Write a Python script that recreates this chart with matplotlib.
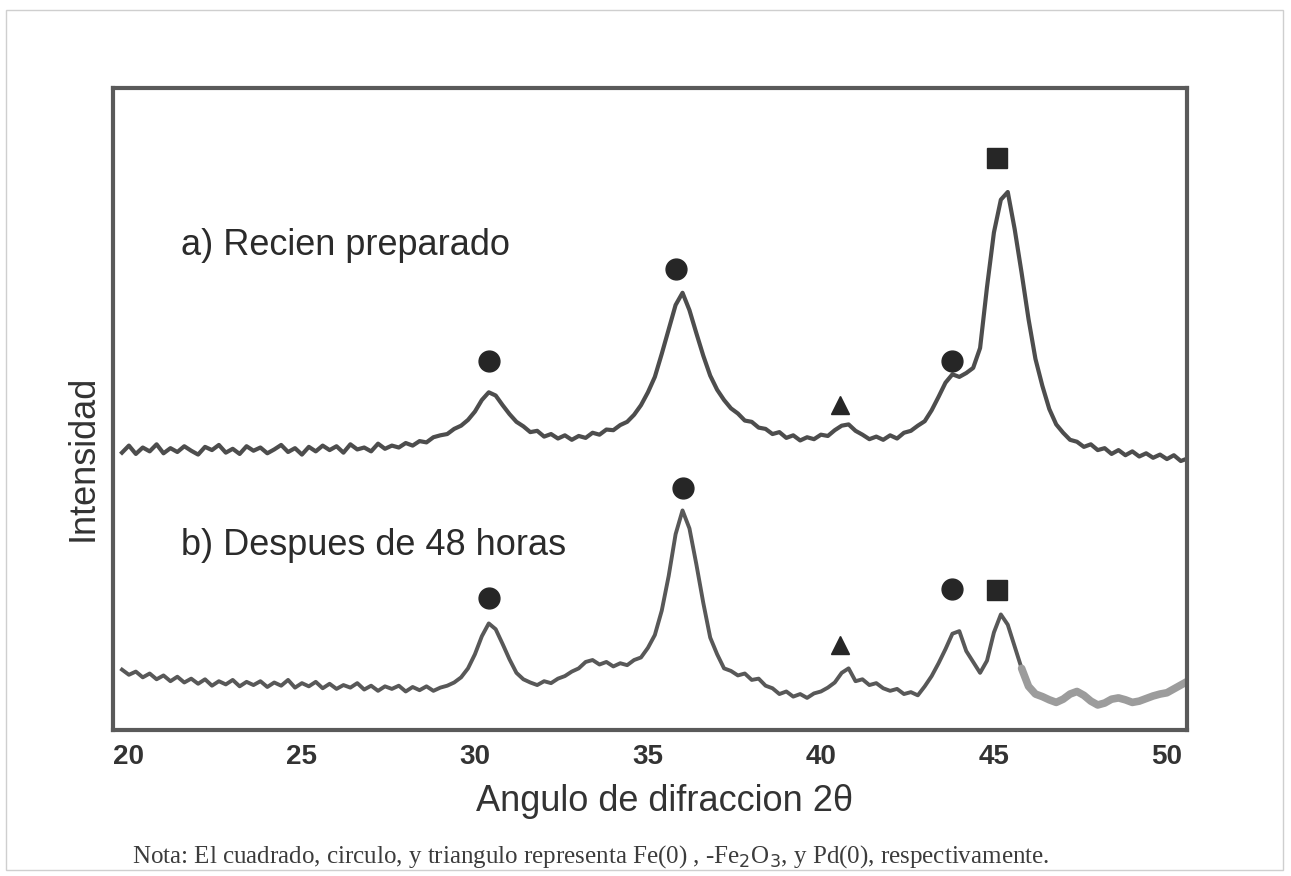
"""
XRD patterns of the Fe/Pd nanoparticles: fresh sample vs. after 48 h.
Writes out.png
"""
import matplotlib
matplotlib.use("Agg")
import matplotlib.pyplot as plt
import numpy as np
from matplotlib.patches import Rectangle

# sampling grid of the scan, 2-theta in degrees (19.8 .. 50.6, 0.2 step)
two_theta = np.round(np.arange(19.8, 50.61, 0.2), 1)

# a) recien preparado  (arbitrary intensity units, offset up)
fresh = [
    43.2, 44.3, 43.0, 44.0, 43.4, 44.5, 43.1, 43.9, 43.3, 44.2,
    43.5, 42.9, 44.1, 43.6, 44.4, 43.2, 43.8, 43.0, 44.2, 43.5,
    44.0, 43.1, 43.7, 44.4, 43.3, 43.9, 42.9, 44.1, 43.4, 44.3,
    43.6, 44.2, 43.2, 44.5, 43.7, 44.0, 43.4, 44.6, 43.8, 44.3,
    44.0, 44.7, 44.3, 45.0, 44.8, 45.6, 45.9, 46.1, 46.9, 47.4,
    48.3, 49.6, 51.4, 52.6, 52.1, 50.6, 49.2, 48.0, 47.3, 46.4,
    46.6, 45.7, 46.1, 45.4, 45.9, 45.2, 45.8, 45.5, 46.3, 46.0,
    46.8, 46.7, 47.5, 48.0, 49.1, 50.6, 52.6, 55.0, 58.6, 62.4,
    66.2, 68.1, 65.4, 61.8, 58.3, 55.2, 53.0, 51.4, 50.1, 49.3,
    48.2, 48.0, 47.1, 46.9, 46.1, 46.4, 45.5, 45.9, 45.1, 45.6,
    45.3, 46.0, 45.8, 46.7, 47.4, 47.6, 46.6, 46.0, 45.3, 45.7,
    45.2, 45.9, 45.4, 46.3, 46.6, 47.4, 48.1, 49.8, 51.9, 54.1,
    55.4, 55.0, 55.6, 56.4, 59.5, 69.0, 77.5, 82.6, 83.8, 78.0,
    71.2, 64.0, 57.8, 53.6, 50.0, 47.6, 46.3, 45.2, 44.9, 44.1,
    44.5, 43.6, 43.9, 43.0, 43.6, 42.8, 43.4, 42.6, 43.1, 42.4,
    42.9, 42.2, 42.8, 41.9, 42.3,
]

# b) despues de 48 horas
aged = [
    9.4, 8.6, 9.1, 8.2, 8.8, 7.9, 8.5, 7.6, 8.3, 7.4,
    8.0, 7.2, 7.9, 6.9, 7.6, 7.1, 7.8, 6.8, 7.5, 7.0,
    7.6, 6.7, 7.4, 6.9, 7.8, 6.6, 7.3, 6.8, 7.5, 6.5,
    7.2, 6.4, 7.0, 6.6, 7.3, 6.3, 6.9, 6.1, 6.8, 6.4,
    6.9, 6.0, 6.7, 6.2, 6.8, 6.1, 6.6, 6.9, 7.4, 8.2,
    9.6, 11.8, 14.6, 16.6, 15.7, 13.4, 11.0, 8.9, 7.9, 7.4,
    7.0, 7.6, 7.3, 8.0, 8.4, 9.1, 9.6, 10.6, 10.9, 10.2,
    10.6, 9.9, 10.4, 10.1, 10.9, 11.3, 12.8, 14.8, 18.6, 24.0,
    30.5, 34.2, 31.4, 25.8, 19.8, 14.4, 11.8, 9.6, 9.2, 8.5,
    8.8, 7.8, 8.0, 6.9, 6.5, 5.6, 6.0, 5.2, 5.6, 5.0,
    5.7, 6.0, 6.6, 7.4, 8.9, 9.6, 7.6, 7.9, 7.0, 7.3,
    6.5, 6.1, 6.4, 5.6, 5.9, 5.4, 6.8, 8.4, 10.4, 12.6,
    15.0, 15.4, 12.3, 10.6, 8.9, 10.8, 15.2, 18.0, 16.4, 13.0,
    9.6, 6.8, 5.6, 5.2, 4.7, 4.3, 4.8, 5.6, 6.0, 5.4,
    4.5, 3.9, 4.2, 4.8, 5.0, 4.7, 4.3, 4.5, 4.9, 5.3,
    5.6, 5.8, 6.4, 7.0, 7.6,
]
aged_faint_from = 45.8   # past this angle the aged trace is a light grey band

# phase markers: s = Fe(0), o = Fe2O3, ^ = Pd(0)
fresh_mk_x = [30.4, 35.8, 40.55, 43.8, 45.1]
fresh_mk_y = [57.5, 71.8, 50.6, 57.5, 89.1]
fresh_mk = ["o", "o", "^", "o", "s"]

aged_mk_x = [30.4, 36.0, 40.55, 43.8, 45.1]
aged_mk_y = [20.6, 37.7, 13.2, 22.0, 21.8]
aged_mk = ["o", "o", "^", "o", "s"]

MK_SIZE = {"o": 15, "^": 13, "s": 15}

fig = plt.figure(figsize=(12.91, 8.76), dpi=100)
ax = fig.add_axes([113 / 1291, 1 - 730 / 876, (1187 - 113) / 1291, (730 - 88) / 876])

x = two_theta
a = np.array(fresh)
b = np.array(aged)
dark = x <= aged_faint_from
faint = x >= aged_faint_from

ax.plot(x, a, color="#4d4d4d", lw=3.0)
ax.plot(x[dark], b[dark], color="#585858", lw=2.8)
ax.plot(x[faint], b[faint], color="#9c9c9c", lw=5.5, solid_capstyle="round")

for mx, my, m in zip(fresh_mk_x + aged_mk_x, fresh_mk_y + aged_mk_y, fresh_mk + aged_mk):
    ax.plot(mx, my, marker=m, ms=MK_SIZE[m], color="#262626", ls="none")

ax.text(21.5, 75.5, "a) Recien preparado", fontsize=26, family="Liberation Sans",
        color="#2b2b2b", va="center")
ax.text(21.5, 28.8, "b) Despues de 48 horas", fontsize=26, family="Liberation Sans",
        color="#2b2b2b", va="center")

ax.set_xlim(19.54, 50.58)
ax.set_ylim(0, 100)
ax.set_xticks([20, 25, 30, 35, 40, 45, 50])
ax.set_yticks([])
ax.tick_params(axis="x", length=0, pad=10, labelsize=20, labelcolor="#333333")
for lab in ax.get_xticklabels():
    lab.set_fontweight("bold")
    lab.set_family("Liberation Sans")
for s in ax.spines.values():
    s.set_color("#5a5a5a")
    s.set_linewidth(3)

fig.text(665 / 1291, 1 - 811 / 876, "Angulo de difraccion 2θ", fontsize=26,
         family="Liberation Sans", color="#333333", ha="center", va="baseline")
fig.text(83 / 1291, 1 - 458 / 876, "Intensidad", fontsize=26, rotation=90,
         family="Liberation Sans", color="#333333", ha="center", va="center")
fig.text(132 / 1291, 1 - 857 / 876,
         "Nota: El cuadrado, circulo, y triangulo representa Fe(0) , -Fe$_2$O$_3$, y Pd(0), respectivamente.",
         fontsize=18, family="Liberation Serif", color="#3c3c3c", va="center")

# faint border of the scanned page
fig.patches.append(Rectangle((6 / 1291, 1 - 870 / 876), 1277 / 1291, 860 / 876,
                             transform=fig.transFigure, fill=False,
                             edgecolor="#cfcfcf", lw=1))

fig.savefig("out.png", dpi=100)
